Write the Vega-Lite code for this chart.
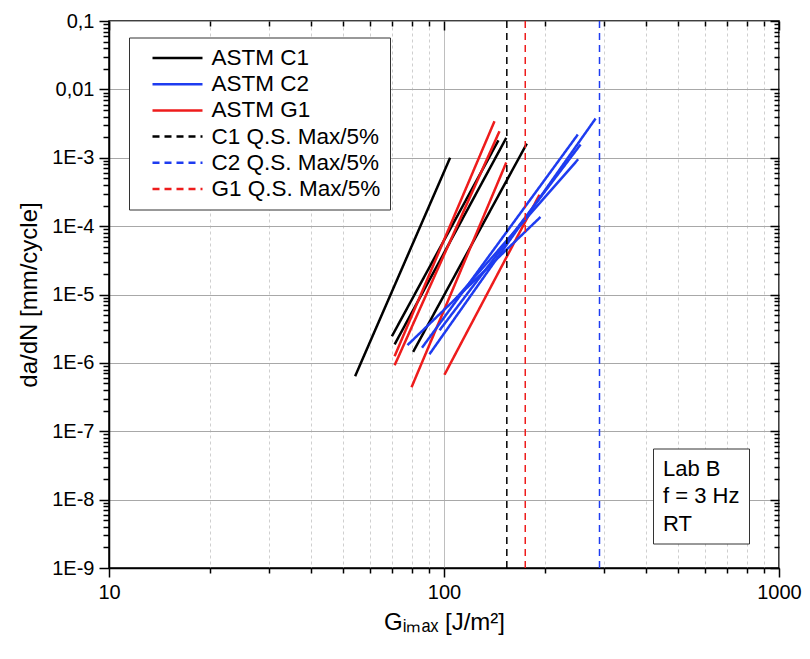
{
  "$schema": "https://vega.github.io/schema/vega-lite/v6.json",
  "width": 670,
  "height": 547,
  "autosize": "none",
  "padding": {"left": 109, "top": 21, "right": 31, "bottom": 91},
  "background": "white",
  "config": {
    "font": "Liberation Sans",
    "view": {"stroke": "black", "strokeWidth": 1.5},
    "axis": {
      "domainColor": "black", "domainWidth": 1.5,
      "tickColor": "black", "tickWidth": 1.5,
      "labelColor": "black", "titleColor": "black",
      "labelFont": "Liberation Sans", "titleFont": "Liberation Sans",
      "labelFontSize": 20, "titleFontSize": 24, "titleFontWeight": "normal",
      "labelOverlap": false, "labelFlush": false
    },
    "legend": {"labelFont": "Liberation Sans", "labelColor": "black"}
  },
  "datasets": {
    "segs": [
      {"series": "ASTM C1", "id": "C1-1", "G": 54.3, "dadN": 6.4e-7},
      {"series": "ASTM C1", "id": "C1-1", "G": 104.3, "dadN": 1.0e-3},
      {"series": "ASTM C1", "id": "C1-2", "G": 69.9, "dadN": 2.45e-6},
      {"series": "ASTM C1", "id": "C1-2", "G": 145.4, "dadN": 1.80e-3},
      {"series": "ASTM C1", "id": "C1-3", "G": 71.2, "dadN": 1.86e-6},
      {"series": "ASTM C1", "id": "C1-3", "G": 153.4, "dadN": 1.95e-3},
      {"series": "ASTM C1", "id": "C1-4", "G": 80.9, "dadN": 1.45e-6},
      {"series": "ASTM C1", "id": "C1-4", "G": 176.7, "dadN": 1.61e-3},
      {"series": "ASTM G1", "id": "G1-1", "G": 71.2, "dadN": 1.25e-6},
      {"series": "ASTM G1", "id": "G1-1", "G": 141.5, "dadN": 3.42e-3},
      {"series": "ASTM G1", "id": "G1-2", "G": 71.2, "dadN": 9.2e-7},
      {"series": "ASTM G1", "id": "G1-2", "G": 146.4, "dadN": 2.44e-3},
      {"series": "ASTM G1", "id": "G1-3", "G": 80.0, "dadN": 4.4e-7},
      {"series": "ASTM G1", "id": "G1-3", "G": 153.4, "dadN": 8.5e-4},
      {"series": "ASTM G1", "id": "G1-4", "G": 100.3, "dadN": 6.7e-7},
      {"series": "ASTM G1", "id": "G1-4", "G": 192.8, "dadN": 2.88e-4},
      {"series": "ASTM C2", "id": "C2-1", "G": 90.5, "dadN": 1.34e-6},
      {"series": "ASTM C2", "id": "C2-1", "G": 283.4, "dadN": 3.74e-3},
      {"series": "ASTM C2", "id": "C2-2", "G": 86.0, "dadN": 1.67e-6},
      {"series": "ASTM C2", "id": "C2-2", "G": 250.8, "dadN": 2.18e-3},
      {"series": "ASTM C2", "id": "C2-3", "G": 77.8, "dadN": 1.82e-6},
      {"series": "ASTM C2", "id": "C2-3", "G": 194.1, "dadN": 1.36e-4},
      {"series": "ASTM C2", "id": "C2-4", "G": 107.5, "dadN": 8.3e-6},
      {"series": "ASTM C2", "id": "C2-4", "G": 251.5, "dadN": 9.5e-4},
      {"series": "ASTM C2", "id": "C2-5", "G": 97.0, "dadN": 3.0e-6},
      {"series": "ASTM C2", "id": "C2-5", "G": 255.6, "dadN": 1.56e-3}
    ],
    "qs": [
      {"series": "C1 Q.S. Max/5%", "G": 154.0},
      {"series": "C2 Q.S. Max/5%", "G": 291.2},
      {"series": "G1 Q.S. Max/5%", "G": 174.8}
    ],
    "notes": [
      {"note": "Lab B"},
      {"note": "f = 3 Hz"},
      {"note": "RT"}
    ]
  },
  "layer": [
    {
      "data": {"name": "segs"},
      "mark": {"type": "line", "strokeWidth": 2.5},
      "encoding": {
        "x": {
          "field": "G", "type": "quantitative",
          "scale": {"type": "log", "domain": [10, 1000], "nice": false},
          "axis": {
            "orient": "bottom",
            "values": [10, 20, 30, 40, 50, 60, 70, 80, 90, 100, 200, 300, 400, 500, 600, 700, 800, 900, 1000],
            "labelExpr": "indexof([10, 100, 1000], datum.value) >= 0 ? datum.value + '' : ''",
            "tickSize": {"condition": {"test": "indexof([10, 100, 1000], datum.value) >= 0", "value": 9}, "value": 5},
            "grid": true,
            "gridWidth": 1,
            "gridColor": {"condition": {"test": "indexof([10, 100, 1000], datum.value) >= 0", "value": "#a8a8a8"}, "value": "#cfcfcf"},
            "gridDash": {"condition": {"test": "indexof([10, 100, 1000], datum.value) >= 0", "value": [1, 0]}, "value": [3, 3]},
            "labelPadding": 5,
            "title": "Gᵢₘₐₓ [J/m²]",
            "titlePadding": 8
          }
        },
        "y": {
          "field": "dadN", "type": "quantitative",
          "scale": {"type": "log", "domain": [1e-9, 0.1], "nice": false},
          "axis": {
            "orient": "left",
            "values": [1e-9, 2e-9, 3e-9, 4e-9, 5e-9, 6e-9, 7e-9, 8e-9, 9e-9,
                       1e-8, 2e-8, 3e-8, 4e-8, 5e-8, 6e-8, 7e-8, 8e-8, 9e-8,
                       1e-7, 2e-7, 3e-7, 4e-7, 5e-7, 6e-7, 7e-7, 8e-7, 9e-7,
                       1e-6, 2e-6, 3e-6, 4e-6, 5e-6, 6e-6, 7e-6, 8e-6, 9e-6,
                       1e-5, 2e-5, 3e-5, 4e-5, 5e-5, 6e-5, 7e-5, 8e-5, 9e-5,
                       1e-4, 2e-4, 3e-4, 4e-4, 5e-4, 6e-4, 7e-4, 8e-4, 9e-4,
                       1e-3, 2e-3, 3e-3, 4e-3, 5e-3, 6e-3, 7e-3, 8e-3, 9e-3,
                       0.01, 0.02, 0.03, 0.04, 0.05, 0.06, 0.07, 0.08, 0.09, 0.1],
            "labelExpr": "abs(log(datum.value)/LN10 - round(log(datum.value)/LN10)) < 0.001 ? (round(log(datum.value)/LN10) == -1 ? '0,1' : round(log(datum.value)/LN10) == -2 ? '0,01' : '1E' + round(log(datum.value)/LN10)) : ''",
            "tickSize": {"condition": {"test": "abs(log(datum.value)/LN10 - round(log(datum.value)/LN10)) < 0.001", "value": 10}, "value": 6},
            "grid": true,
            "gridColor": "#a8a8a8",
            "gridWidth": 1,
            "gridOpacity": {"condition": {"test": "abs(log(datum.value)/LN10 - round(log(datum.value)/LN10)) < 0.001", "value": 1}, "value": 0},
            "labelPadding": 5,
            "title": "da/dN [mm/cycle]",
            "titlePadding": 10
          }
        },
        "detail": {"field": "id", "type": "nominal"},
        "color": {
          "field": "series", "type": "nominal",
          "scale": {
            "domain": ["ASTM C1", "ASTM C2", "ASTM G1", "C1 Q.S. Max/5%", "C2 Q.S. Max/5%", "G1 Q.S. Max/5%"],
            "range": ["#000000", "#1e3cf0", "#ee1c1c", "#000000", "#1e3cf0", "#ee1c1c"]
          },
          "legend": {
            "title": null,
            "orient": "none",
            "legendX": 20,
            "legendY": 16.5,
            "symbolType": "M0.3,0H5.3",
            "symbolSize": 400,
            "symbolStrokeWidth": 2.5,
            "labelFontSize": 22.5,
            "labelOffset": 50.5,
            "labelLimit": 400,
            "rowPadding": 3.2,
            "padding": 9,
            "strokeColor": "#333333",
            "fillColor": "white"
          }
        },
        "strokeDash": {
          "field": "series", "type": "nominal",
          "scale": {
            "domain": ["ASTM C1", "ASTM C2", "ASTM G1", "C1 Q.S. Max/5%", "C2 Q.S. Max/5%", "G1 Q.S. Max/5%"],
            "range": [[1, 0], [1, 0], [1, 0], [7, 5], [7, 5], [7, 5]]
          },
          "legend": {"title": null}
        }
      }
    },
    {
      "data": {"name": "qs"},
      "mark": {"type": "rule", "strokeWidth": 1.5},
      "encoding": {
        "x": {
          "field": "G", "type": "quantitative",
          "scale": {"type": "log", "domain": [10, 1000], "nice": false},
          "axis": {
            "orient": "top",
            "values": [10, 20, 30, 40, 50, 60, 70, 80, 90, 100, 200, 300, 400, 500, 600, 700, 800, 900, 1000],
            "labels": false,
            "domain": false,
            "grid": false,
            "tickSize": {"condition": {"test": "indexof([10, 100, 1000], datum.value) >= 0", "value": -9}, "value": -5},
            "title": null
          }
        },
        "color": {"field": "series", "type": "nominal"},
        "strokeDash": {"field": "series", "type": "nominal"}
      }
    },
    {
      "data": {"name": "segs"},
      "mark": {"type": "point", "opacity": 0},
      "encoding": {
        "x": {"field": "G", "type": "quantitative", "scale": {"type": "log", "domain": [10, 1000], "nice": false}, "axis": null},
        "y": {
          "field": "dadN", "type": "quantitative",
          "scale": {"type": "log", "domain": [1e-9, 0.1], "nice": false},
          "axis": {
            "orient": "right",
            "values": [1e-9, 2e-9, 3e-9, 4e-9, 5e-9, 6e-9, 7e-9, 8e-9, 9e-9,
                       1e-8, 2e-8, 3e-8, 4e-8, 5e-8, 6e-8, 7e-8, 8e-8, 9e-8,
                       1e-7, 2e-7, 3e-7, 4e-7, 5e-7, 6e-7, 7e-7, 8e-7, 9e-7,
                       1e-6, 2e-6, 3e-6, 4e-6, 5e-6, 6e-6, 7e-6, 8e-6, 9e-6,
                       1e-5, 2e-5, 3e-5, 4e-5, 5e-5, 6e-5, 7e-5, 8e-5, 9e-5,
                       1e-4, 2e-4, 3e-4, 4e-4, 5e-4, 6e-4, 7e-4, 8e-4, 9e-4,
                       1e-3, 2e-3, 3e-3, 4e-3, 5e-3, 6e-3, 7e-3, 8e-3, 9e-3,
                       0.01, 0.02, 0.03, 0.04, 0.05, 0.06, 0.07, 0.08, 0.09, 0.1],
            "labels": false,
            "domain": false,
            "grid": false,
            "tickSize": {"condition": {"test": "abs(log(datum.value)/LN10 - round(log(datum.value)/LN10)) < 0.001", "value": -9}, "value": -5},
            "title": null
          }
        }
      }
    },
    {
      "data": {"name": "notes"},
      "mark": {"type": "point", "opacity": 0},
      "encoding": {
        "shape": {
          "field": "note", "type": "nominal",
          "scale": {"domain": ["Lab B", "f = 3 Hz", "RT"], "range": ["circle", "circle", "circle"]},
          "legend": {
            "title": null,
            "orient": "none",
            "legendX": 544,
            "legendY": 427.5,
            "symbolSize": 1,
            "symbolOpacity": 0,
            "labelOffset": -21,
            "labelFontSize": 22,
            "rowPadding": 5.5,
            "padding": 9,
            "strokeColor": "#333333",
            "fillColor": "white"
          }
        }
      }
    }
  ],
  "resolve": {"axis": {"x": "independent", "y": "independent"}}
}
